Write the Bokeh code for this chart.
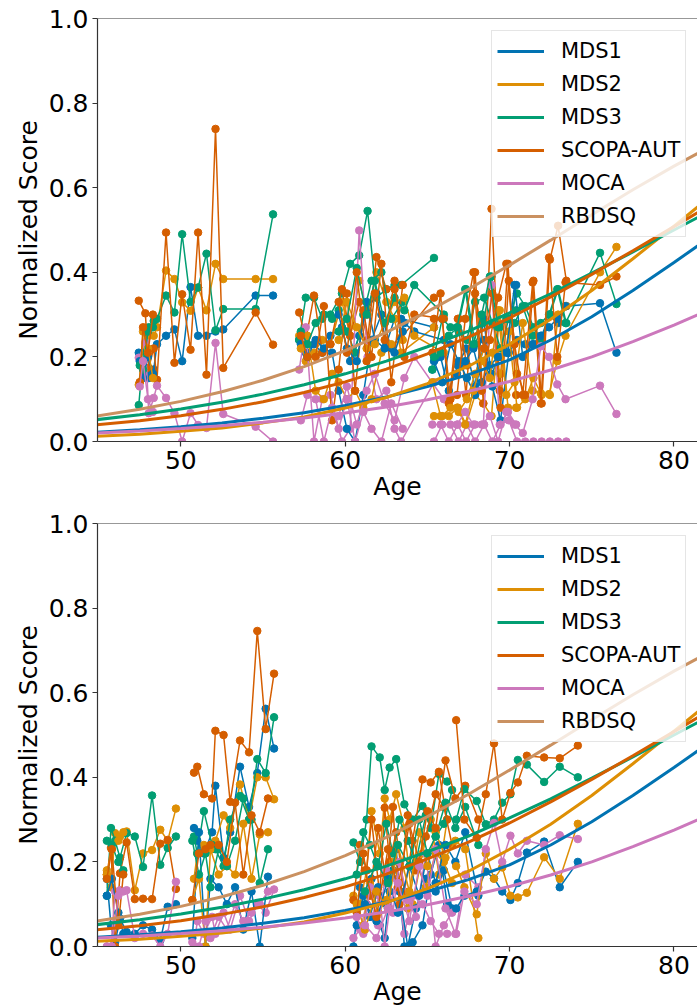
from bokeh.plotting import figure
from bokeh.layouts import column
from bokeh.models import FixedTicker, PrintfTickFormatter, Legend, LegendItem, Span, Range1d
from bokeh.embed import file_html
from bokeh.resources import INLINE

MEASURES = ["MDS1", "MDS2", "MDS3", "SCOPA-AUT", "MOCA", "RBDSQ"]
COLORS = ["#0173b2", "#de8f05", "#029e73", "#d55e00", "#cc78bc", "#ca9161"]
X_TICKS = [50, 60, 70, 80]
Y_TICKS = [0.0, 0.2, 0.4, 0.6, 0.8, 1.0]

# fitted population curves
CURVE_AGE = [44.5, 47.5, 50, 52.5, 55, 57.5, 60, 62.5, 65, 67.5, 70, 72.5, 75, 77.5, 80, 82]
CURVE_MDS1 = [0.021, 0.028, 0.035, 0.044, 0.055, 0.068, 0.085, 0.105, 0.130, 0.158, 0.193, 0.240, 0.295, 0.357, 0.423, 0.478]
CURVE_MDS2 = [0.012, 0.017, 0.024, 0.032, 0.044, 0.058, 0.079, 0.104, 0.137, 0.178, 0.230, 0.289, 0.357, 0.432, 0.509, 0.572]
CURVE_MDS3 = [0.050, 0.063, 0.077, 0.093, 0.112, 0.134, 0.160, 0.190, 0.224, 0.261, 0.304, 0.349, 0.398, 0.448, 0.500, 0.541]
CURVE_SCOPA = [0.038, 0.049, 0.061, 0.076, 0.094, 0.116, 0.141, 0.171, 0.207, 0.247, 0.292, 0.342, 0.395, 0.451, 0.508, 0.554]
CURVE_MOCA = [0.0196, 0.0249, 0.0305, 0.0373, 0.0455, 0.0554, 0.0673, 0.0816, 0.0986, 0.1186, 0.142, 0.169, 0.200, 0.236, 0.275, 0.309]
CURVE_RBDSQ = [0.058, 0.0761, 0.0948, 0.1175, 0.1448, 0.177, 0.215, 0.258, 0.307, 0.360, 0.417, 0.476, 0.536, 0.595, 0.651, 0.693]

# ---------------- top panel: patient trajectories ----------------
T1_AGE = [47.44, 47.84, 48.05, 48.35, 48.55, 49.10, 49.61, 50.08, 50.59, 51.05, 51.56, 52.11, 52.58, 54.55, 55.61]
T1_MDS1 = [0.21, 0.16, 0.15, 0.17, 0.23, 0.25, 0.265, 0.19, 0.365, 0.25, 0.25, 0.26, 0.265, 0.345, 0.345]
T1_MDS2 = [0.134, 0.269, 0.25, 0.25, 0.27, 0.404, 0.384, 0.329, 0.309, 0.364, 0.31, 0.42, 0.384, 0.384, 0.384]
T1_MDS3 = [0.086, 0.26, 0.27, 0.285, 0.29, 0.345, 0.305, 0.49, 0.33, 0.364, 0.444, 0.263, 0.313, 0.313, 0.537]
T1_SCOPA = [0.333, 0.303, 0.174, 0.22, 0.146, 0.494, 0.186, 0.348, 0.217, 0.494, 0.158, 0.739, 0.174, 0.305, 0.229]
T1_MOCA = [0.198, 0.234, 0.067, 0.103, 0.132, 0.103, 0.067, 0.0, 0.067, 0.039, 0.032, 0.233, 0.065, 0.035, 0.0]

T1B_AGE = [47.5, 47.7, 48.0, 48.3]
T1B_MDS1 = [0.19, 0.15, 0.20, 0.16]
T1B_MDS2 = [0.14, 0.26, 0.22, 0.15]
T1B_MDS3 = [0.18, 0.17, 0.26, 0.27]
T1B_SCOPA = [0.14, 0.27, 0.21, 0.30]
T1B_MOCA = [0.13, 0.19, 0.10, 0.07]

T2_AGE = [57.2, 57.6, 58.1, 58.6, 59.1, 59.8, 60.3, 60.85, 61.36, 61.9, 62.5, 63.0, 63.4, 65.4]
T2_MDS1 = [0.24, 0.21, 0.23, 0.21, 0.25, 0.27, 0.19, 0.25, 0.31, 0.35, 0.23, 0.29, 0.29, 0.27]
T2_MDS2 = [0.25, 0.19, 0.21, 0.24, 0.23, 0.33, 0.25, 0.38, 0.30, 0.40, 0.33, 0.29, 0.21, 0.27]
T2_MDS3 = [0.24, 0.34, 0.34, 0.29, 0.30, 0.35, 0.42, 0.44, 0.545, 0.34, 0.36, 0.37, 0.37, 0.434]
T2_SCOPA = [0.305, 0.24, 0.345, 0.21, 0.23, 0.36, 0.25, 0.33, 0.24, 0.436, 0.36, 0.36, 0.245, 0.34]
T2_MOCA = [0.17, 0.27, 0.0, 0.10, 0.11, 0.0, 0.03, 0.499, 0.20, 0.10, 0.12, 0.03, 0.0, 0.14]

T3_AGE = [57.3, 57.7, 58.2, 58.7, 59.2, 59.6, 60.1, 60.6, 61.1, 61.6, 62.2, 62.8, 63.5]
T3_MDS1 = [0.23, 0.20, 0.24, 0.22, 0.21, 0.12, 0.03, 0.0, 0.11, 0.24, 0.30, 0.22, 0.26]
T3_MDS2 = [0.22, 0.25, 0.12, 0.10, 0.16, 0.14, 0.10, 0.12, 0.08, 0.10, 0.21, 0.23, 0.24]
T3_MDS3 = [0.26, 0.23, 0.28, 0.30, 0.29, 0.31, 0.26, 0.21, 0.30, 0.38, 0.40, 0.29, 0.33]
T3_SCOPA = [0.25, 0.20, 0.20, 0.32, 0.05, 0.17, 0.35, 0.12, 0.31, 0.20, 0.42, 0.14, 0.37]
T3_MOCA = [0.05, 0.11, 0.10, 0.0, 0.08, 0.03, 0.10, 0.0, 0.07, 0.03, 0.0, 0.09, 0.03]

T4_AGE = [59.6, 60.1, 60.7, 61.3, 61.8, 62.4, 63.0, 63.6, 64.2, 66.0]
T4_MDS1 = [0.30, 0.22, 0.19, 0.33, 0.24, 0.22, 0.21, 0.28, 0.26, 0.24]
T4_MDS2 = [0.24, 0.33, 0.27, 0.22, 0.23, 0.28, 0.33, 0.34, 0.25, 0.21]
T4_MDS3 = [0.26, 0.29, 0.41, 0.30, 0.38, 0.28, 0.34, 0.31, 0.37, 0.30]
T4_SCOPA = [0.33, 0.21, 0.40, 0.19, 0.35, 0.24, 0.38, 0.20, 0.30, 0.29]
T4_MOCA = [0.06, 0.13, 0.04, 0.12, 0.16, 0.09, 0.05, 0.15, 0.20, 0.10]

T5_AGE = [65.3, 65.8, 66.3, 66.85, 67.35, 67.9, 68.4, 68.9, 69.4, 69.9, 70.4]
T5_MDS1 = [0.17, 0.20, 0.12, 0.18, 0.22, 0.13, 0.29, 0.16, 0.20, 0.21, 0.37]
T5_MDS2 = [0.14, 0.06, 0.06, 0.08, 0.04, 0.11, 0.09, 0.06, 0.31, 0.08, 0.08]
T5_MDS3 = [0.17, 0.21, 0.25, 0.27, 0.36, 0.23, 0.28, 0.39, 0.27, 0.29, 0.31]
T5_SCOPA = [0.21, 0.35, 0.09, 0.29, 0.11, 0.40, 0.09, 0.55, 0.12, 0.42, 0.11]
T5_MOCA = [0.04, 0.04, 0.0, 0.04, 0.0, 0.04, 0.04, 0.37, 0.04, 0.07, 0.04]

T6_AGE = [65.4, 65.9, 66.4, 66.9, 67.4, 67.9, 68.45, 68.95, 69.45, 69.95, 70.45, 70.95, 71.45, 71.95, 72.45, 72.95, 73.45]
T6_MDS1 = [0.19, 0.14, 0.23, 0.19, 0.15, 0.11, 0.24, 0.13, 0.05, 0.21, 0.24, 0.23, 0.23, 0.25, 0.30, 0.28, 0.32]
T6_MDS2 = [0.06, 0.06, 0.08, 0.07, 0.10, 0.16, 0.22, 0.21, 0.16, 0.26, 0.08, 0.10, 0.15, 0.11, 0.11, 0.30, 0.32]
T6_MDS3 = [0.20, 0.29, 0.27, 0.26, 0.24, 0.33, 0.34, 0.28, 0.22, 0.29, 0.35, 0.32, 0.27, 0.24, 0.30, 0.36, 0.28]
T6_SCOPA = [0.29, 0.29, 0.10, 0.29, 0.18, 0.35, 0.22, 0.35, 0.08, 0.38, 0.16, 0.11, 0.38, 0.09, 0.43, 0.51, 0.38]
T6_MOCA = [0.0, 0.04, 0.04, 0.0, 0.04, 0.0, 0.04, 0.0, 0.04, 0.05, 0.0, 0.0, 0.0, 0.0, 0.0, 0.0, 0.0]

T7_AGE = [66.8, 67.3, 67.8, 68.3, 68.8, 69.3, 69.8, 70.3, 70.8, 71.4, 71.9, 72.4, 72.9, 73.4, 75.5, 76.5]
T7_MDS1 = [0.16, 0.19, 0.22, 0.14, 0.18, 0.20, 0.21, 0.37, 0.20, 0.23, 0.25, 0.27, 0.29, 0.32, 0.327, 0.21]
T7_MDS2 = [0.08, 0.04, 0.12, 0.19, 0.15, 0.31, 0.11, 0.14, 0.28, 0.12, 0.114, 0.112, 0.19, 0.25, 0.40, 0.46]
T7_MDS3 = [0.27, 0.36, 0.23, 0.30, 0.39, 0.27, 0.29, 0.28, 0.32, 0.25, 0.28, 0.30, 0.36, 0.28, 0.446, 0.325]
T7_SCOPA = [0.11, 0.29, 0.40, 0.12, 0.24, 0.34, 0.42, 0.23, 0.11, 0.376, 0.09, 0.435, 0.20, 0.376, 0.37, 0.39]
T7_MOCA = [0.04, 0.07, 0.04, 0.04, 0.06, 0.0, 0.07, 0.04, 0.02, 0.10, 0.225, 0.20, 0.135, 0.10, 0.132, 0.065]

# ---------------- bottom panel: patient trajectories ----------------
B1_AGE = [45.5, 45.75, 46.0, 46.3, 46.7, 47.2, 47.7, 48.25, 48.75, 49.2, 49.7]
B1_MDS1 = [0.16, 0.05, 0.01, 0.066, 0.034, 0.03, 0.05, 0.04, 0.014, 0.094, 0.10]
B1_MDS2 = [0.18, 0.14, 0.268, 0.26, 0.272, 0.133, 0.22, 0.228, 0.276, 0.25, 0.326]
B1_MDS3 = [0.12, 0.28, 0.25, 0.21, 0.268, 0.26, 0.188, 0.357, 0.193, 0.233, 0.26]
B1_SCOPA = [0.17, 0.233, 0.0, 0.173, 0.246, 0.112, 0.113, 0.112, 0.243, 0.252, 0.136]
B1_MOCA = [0.0, 0.0, 0.13, 0.133, 0.133, 0.02, 0.03, 0.026, 0.0, 0.03, 0.153]

B2_AGE = [45.5, 45.8, 46.2, 46.5]
B2_MDS1 = [0.12, 0.16, 0.08, 0.03]
B2_MDS2 = [0.17, 0.23, 0.25, 0.27]
B2_MDS3 = [0.25, 0.24, 0.20, 0.18]
B2_SCOPA = [0.16, 0.23, 0.05, 0.17]
B2_MOCA = [0.0, 0.0, 0.12, 0.13]

B3_AGE = [50.8, 51.0, 51.4, 51.9, 52.1, 52.6, 53.0, 53.6, 54.15, 54.65, 55.16, 55.67]
B3_MDS1 = [0.28, 0.25, 0.22, 0.27, 0.38, 0.21, 0.27, 0.425, 0.33, 0.41, 0.562, 0.468]
B3_MDS2 = [0.16, 0.22, 0.24, 0.23, 0.25, 0.31, 0.28, 0.383, 0.30, 0.40, 0.40, 0.348]
B3_MDS3 = [0.26, 0.22, 0.32, 0.24, 0.23, 0.19, 0.30, 0.356, 0.30, 0.443, 0.41, 0.542]
B3_SCOPA = [0.411, 0.425, 0.36, 0.35, 0.51, 0.50, 0.342, 0.487, 0.459, 0.746, 0.514, 0.645]
B3_MOCA = [0.0, 0.06, 0.03, 0.07, 0.03, 0.08, 0.04, 0.12, 0.06, 0.10, 0.08, 0.135]

B4_AGE = [50.7, 51.1, 51.5, 51.8, 52.3, 52.8, 53.3, 53.8, 54.3, 54.8, 55.3]
B4_MDS1 = [0.02, 0.27, 0.0, 0.16, 0.14, 0.10, 0.14, 0.04, 0.13, 0.0, 0.165]
B4_MDS2 = [0.11, 0.16, 0.0, 0.23, 0.17, 0.19, 0.17, 0.29, 0.16, 0.265, 0.27]
B4_MDS3 = [0.25, 0.17, 0.22, 0.14, 0.23, 0.19, 0.25, 0.35, 0.30, 0.15, 0.23]
B4_SCOPA = [0.11, 0.22, 0.23, 0.24, 0.24, 0.20, 0.34, 0.17, 0.31, 0.27, 0.35]
B4_MOCA = [0.01, 0.0, 0.06, 0.02, 0.07, 0.04, 0.10, 0.06, 0.08, 0.10, 0.13]

B5_AGE = [66.75, 67.25, 68.0, 68.55, 69.05, 69.55, 70.05, 70.5, 71.05, 72.1, 73.05, 74.15]
B5_MDS1 = [0.09, 0.12, 0.13, 0.177, 0.161, 0.13, 0.11, 0.15, 0.222, 0.248, 0.14, 0.20]
B5_MDS2 = [0.19, 0.14, 0.076, 0.22, 0.16, 0.187, 0.12, 0.116, 0.127, 0.211, 0.16, 0.29]
B5_MDS3 = [0.30, 0.372, 0.344, 0.289, 0.30, 0.34, 0.36, 0.441, 0.43, 0.389, 0.425, 0.40]
B5_SCOPA = [0.535, 0.30, 0.257, 0.36, 0.48, 0.30, 0.363, 0.388, 0.451, 0.447, 0.445, 0.475]
B5_MOCA = [0.03, 0.13, 0.10, 0.23, 0.292, 0.20, 0.262, 0.22, 0.25, 0.24, 0.263, 0.254]

B6_AGE = [60.5, 60.9, 61.3, 61.6, 62.1, 62.4, 62.7, 63.1, 63.6, 64.1, 64.7, 65.2, 65.7, 66.2]
B6_MDS1 = [0.0, 0.14, 0.10, 0.16, 0.05, 0.02, 0.13, 0.23, 0.0, 0.01, 0.05, 0.17, 0.24, 0.10]
B6_MDS2 = [0.12, 0.10, 0.18, 0.32, 0.22, 0.35, 0.30, 0.36, 0.28, 0.10, 0.22, 0.30, 0.17, 0.30]
B6_MDS3 = [0.246, 0.20, 0.30, 0.473, 0.447, 0.37, 0.423, 0.443, 0.336, 0.30, 0.332, 0.28, 0.408, 0.39]
B6_SCOPA = [0.11, 0.24, 0.18, 0.30, 0.12, 0.328, 0.20, 0.27, 0.13, 0.25, 0.395, 0.388, 0.413, 0.30]
B6_MOCA = [0.02, 0.04, 0.10, 0.07, 0.12, 0.0, 0.09, 0.16, 0.03, 0.12, 0.10, 0.06, 0.03, 0.03]

B7_AGE = [60.7, 61.1, 61.5, 62.0, 62.5, 62.9, 63.3, 63.8, 64.3, 64.9, 65.5, 66.0, 66.5]
B7_MDS1 = [0.05, 0.12, 0.07, 0.14, 0.10, 0.18, 0.13, 0.0, 0.09, 0.16, 0.13, 0.18, 0.09]
B7_MDS2 = [0.10, 0.05, 0.15, 0.08, 0.11, 0.20, 0.15, 0.09, 0.20, 0.14, 0.22, 0.20, 0.15]
B7_MDS3 = [0.17, 0.27, 0.24, 0.19, 0.29, 0.22, 0.30, 0.25, 0.20, 0.31, 0.26, 0.29, 0.37]
B7_SCOPA = [0.08, 0.22, 0.12, 0.28, 0.15, 0.33, 0.10, 0.31, 0.18, 0.26, 0.36, 0.33, 0.24]
B7_MOCA = [0.07, 0.03, 0.14, 0.05, 0.18, 0.08, 0.20, 0.11, 0.07, 0.22, 0.0, 0.05, 0.08]

B8_AGE = [61.2, 61.9, 62.6, 63.2, 63.9, 64.5, 65.0, 65.5, 66.1, 66.7, 67.3, 68.1]
B8_MDS1 = [0.10, 0.06, 0.16, 0.08, 0.19, 0.12, 0.22, 0.15, 0.24, 0.20, 0.27, 0.12]
B8_MDS2 = [0.04, 0.13, 0.09, 0.24, 0.13, 0.27, 0.19, 0.27, 0.21, 0.25, 0.23, 0.02]
B8_MDS3 = [0.13, 0.20, 0.15, 0.24, 0.19, 0.30, 0.22, 0.26, 0.34, 0.28, 0.33, 0.24]
B8_SCOPA = [0.18, 0.07, 0.23, 0.14, 0.29, 0.20, 0.32, 0.28, 0.44, 0.35, 0.38, 0.30]
B8_MOCA = [0.05, 0.02, 0.09, 0.15, 0.06, 0.19, 0.12, 0.23, 0.09, 0.03, 0.17, 0.14]

TOP_PATIENTS = [
    (T1_AGE, [T1_MDS1, T1_MDS2, T1_MDS3, T1_SCOPA, T1_MOCA]),
    (T1B_AGE, [T1B_MDS1, T1B_MDS2, T1B_MDS3, T1B_SCOPA, T1B_MOCA]),
    (T2_AGE, [T2_MDS1, T2_MDS2, T2_MDS3, T2_SCOPA, T2_MOCA]),
    (T3_AGE, [T3_MDS1, T3_MDS2, T3_MDS3, T3_SCOPA, T3_MOCA]),
    (T4_AGE, [T4_MDS1, T4_MDS2, T4_MDS3, T4_SCOPA, T4_MOCA]),
    (T5_AGE, [T5_MDS1, T5_MDS2, T5_MDS3, T5_SCOPA, T5_MOCA]),
    (T6_AGE, [T6_MDS1, T6_MDS2, T6_MDS3, T6_SCOPA, T6_MOCA]),
    (T7_AGE, [T7_MDS1, T7_MDS2, T7_MDS3, T7_SCOPA, T7_MOCA]),
]
BOTTOM_PATIENTS = [
    (B1_AGE, [B1_MDS1, B1_MDS2, B1_MDS3, B1_SCOPA, B1_MOCA]),
    (B2_AGE, [B2_MDS1, B2_MDS2, B2_MDS3, B2_SCOPA, B2_MOCA]),
    (B3_AGE, [B3_MDS1, B3_MDS2, B3_MDS3, B3_SCOPA, B3_MOCA]),
    (B4_AGE, [B4_MDS1, B4_MDS2, B4_MDS3, B4_SCOPA, B4_MOCA]),
    (B6_AGE, [B6_MDS1, B6_MDS2, B6_MDS3, B6_SCOPA, B6_MOCA]),
    (B7_AGE, [B7_MDS1, B7_MDS2, B7_MDS3, B7_SCOPA, B7_MOCA]),
    (B8_AGE, [B8_MDS1, B8_MDS2, B8_MDS3, B8_SCOPA, B8_MOCA]),
    (B5_AGE, [B5_MDS1, B5_MDS2, B5_MDS3, B5_SCOPA, B5_MOCA]),
]
CURVES = [CURVE_MDS1, CURVE_MDS2, CURVE_MDS3, CURVE_SCOPA, CURVE_MOCA, CURVE_RBDSQ]

FONT = "DejaVu Sans"
AXIS_COLOR = "#333333"


def make_fig(patients, height, top_border):
    p = figure(width=697, height=height, x_range=Range1d(44.93, 81.43), y_range=Range1d(0, 1),
               output_backend="svg", toolbar_location=None,
               min_border_left=97, min_border_right=0, min_border_top=top_border, min_border_bottom=0)
    p.grid.visible = False
    p.outline_line_color = None
    p.xaxis.ticker = FixedTicker(ticks=X_TICKS)
    p.yaxis.ticker = FixedTicker(ticks=Y_TICKS)
    p.yaxis.formatter = PrintfTickFormatter(format="%.1f")
    p.xaxis.axis_label = "Age"
    p.yaxis.axis_label = "Normalized Score"
    for ax in (p.xaxis[0], p.yaxis[0]):
        ax.axis_line_color = AXIS_COLOR
        ax.axis_line_width = 1.2
        ax.major_tick_line_color = AXIS_COLOR
        ax.major_tick_line_width = 1.2
        ax.major_tick_out = 5
        ax.major_tick_in = 0
        ax.minor_tick_line_color = None
        ax.major_label_text_font = FONT
        ax.major_label_text_font_size = "25px"
        ax.major_label_text_color = "black"
        ax.major_label_standoff = 4
        ax.axis_label_text_font = FONT
        ax.axis_label_text_font_size = "25px"
        ax.axis_label_text_font_style = "normal"
        ax.axis_label_text_color = "black"
        ax.axis_label_standoff = 0
    p.yaxis[0].axis_label_standoff = 3
    p.add_layout(Span(location=1.0, dimension="width", line_color=AXIS_COLOR, line_width=1.2))

    for ages, series in patients:
        for vals, col in zip(series, COLORS[:5]):
            p.line(ages, vals, line_color=col, line_width=1.5)
            p.scatter(ages, vals, size=7.5, marker="circle", fill_color=col, line_color=col)

    items = []
    for name, col, vals in zip(MEASURES, COLORS, CURVES):
        r = p.line(CURVE_AGE, vals, line_color=col, line_width=3)
        items.append(LegendItem(label=name, renderers=[r]))

    legend = Legend(items=items, location=(394, 204))
    legend.label_text_font = FONT
    legend.label_text_font_size = "21px"
    legend.label_text_color = "black"
    legend.glyph_width = 47
    legend.glyph_height = 30
    legend.label_height = 30
    legend.label_standoff = 17
    legend.spacing = 3
    legend.padding = 5
    legend.margin = 0
    legend.background_fill_alpha = 0.8
    legend.border_line_color = "#cccccc"
    legend.border_line_width = 1
    p.add_layout(legend)
    return p


top = make_fig(TOP_PATIENTS, 503, 18)
bottom = make_fig(BOTTOM_PATIENTS, 505, 20)
layout = column(top, bottom, spacing=0)

open("out.html", "w").write(file_html(layout, INLINE))
